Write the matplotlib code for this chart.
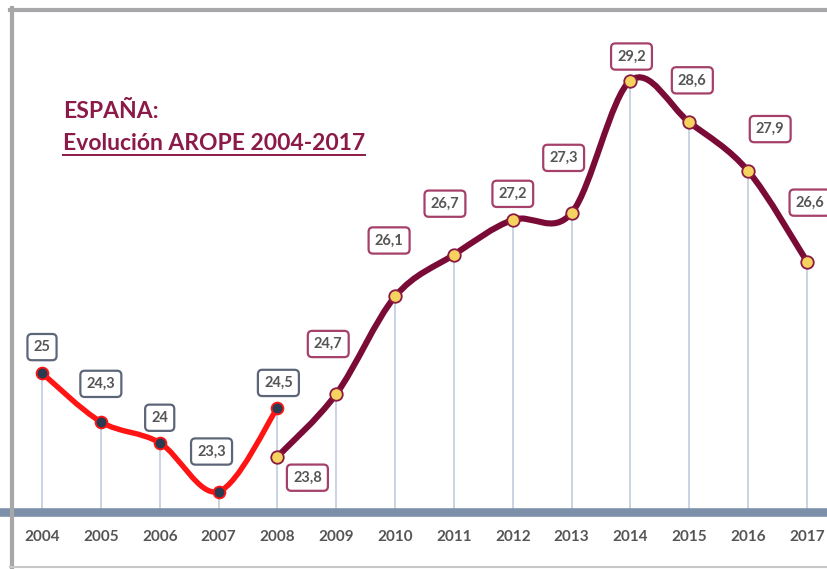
import numpy as np
import matplotlib
matplotlib.use("Agg")
import matplotlib.pyplot as plt
from matplotlib.path import Path
from matplotlib.patches import PathPatch
from matplotlib.lines import Line2D

# datos
years_a = [2004, 2005, 2006, 2007, 2008]
arope_a = [25.0, 24.3, 24.0, 23.3, 24.5]
years_b = [2008, 2009, 2010, 2011, 2012, 2013, 2014, 2015, 2016, 2017]
arope_b = [23.8, 24.7, 26.1, 26.7, 27.2, 27.3, 29.2, 28.6, 27.9, 26.6]
all_years = list(range(2004, 2018))

# desplazamiento de las etiquetas (pixeles)
off_a = [(0, 26), (0, 38), (0, 25), (-7, 40), (1, 25)]
off_b = [(30, -21), (-8, 50), (-6, 56), (-9, 51), (0, 26), (-8, 55),
         (1, 24), (3, 42), (22, 42), (3, 59)]

plt.rcParams['font.family'] = ['Lato', 'DejaVu Sans']


# curva suave (catmull-rom -> bezier)
def curva(xs, ys):
    p = np.column_stack([xs, ys]).astype(float)
    ext = np.vstack([p[0], p, p[-1]])
    verts = [p[0]]
    codes = [Path.MOVETO]
    for i in range(len(p) - 1):
        p0, p1, p2, p3 = ext[i], ext[i + 1], ext[i + 2], ext[i + 3]
        c1 = p1 + (p2 - p0) / 6.0
        c2 = p2 - (p3 - p1) / 6.0
        verts += [c1, c2, p2]
        codes += [Path.CURVE4] * 3
    return Path(verts, codes)


fig = plt.figure(figsize=(8.28, 5.69), dpi=100)
H = 569.0
ax = fig.add_axes([0, (H - 512) / H, 1, 512 / H])
px = 58.85
ax.set_xlim(2004 - 42 / px, 2004 + (828 - 42) / px)
py = 69.66
ax.set_ylim(23.006, 23.006 + 512 / py)

for s in ['top', 'right', 'left']:
    ax.spines[s].set_visible(False)
ax.spines['bottom'].set_color('#7d90aa')
ax.spines['bottom'].set_linewidth(6.2)
ax.spines['bottom'].set_zorder(5)
ax.set_yticks([])
ax.set_xticks(all_years)
ax.set_xticklabels([str(y) for y in all_years], fontsize=11, fontweight='bold', color='#555555')
ax.tick_params(axis='x', length=0, pad=13)

# lineas verticales
tops = {}
for x, y in zip(years_b, arope_b):
    tops[x] = y
for x, y in zip(years_a, arope_a):
    tops[x] = max(y, tops.get(x, y))
for x in all_years:
    ax.vlines(x, 23.0, tops[x], color='#c9d3e2', lw=1.4, zorder=1)

ax.add_patch(PathPatch(curva(years_a, arope_a), fill=False, ec='#ff1414', lw=3.9,
                       capstyle='round', zorder=3))
ax.add_patch(PathPatch(curva(years_b, arope_b), fill=False, ec='#7a0a36', lw=4.4,
                       capstyle='round', zorder=3))
ax.plot(years_a, arope_a, 'o', ms=8.5, mfc='#2a3a50', mec='#ff1414', mew=1.3, zorder=4)
ax.plot(years_b, arope_b, 'o', ms=9, mfc='#f6d35e', mec='#8a1a44', mew=1.3, zorder=4)


def etiqueta(x, y, off, ec):
    txt = ('%.1f' % y).replace('.', ',').replace(',0', '')
    ax.annotate(txt, (x, y), xytext=(off[0] * 0.72, off[1] * 0.72), textcoords='offset points',
                ha='center', va='center', fontsize=10.5, fontweight='bold', color='#555555',
                bbox=dict(boxstyle='round,pad=0.42,rounding_size=0.3', fc='white', ec=ec, lw=1.6),
                zorder=6, annotation_clip=False)


for x, y, o in zip(years_a, arope_a, off_a):
    etiqueta(x, y, o, '#5d6678')
for x, y, o in zip(years_b, arope_b, off_b):
    etiqueta(x, y, o, '#a5406a')

# titulo
fig.text(63 / 828, 1 - 111 / H, 'ESPAÑA:', fontsize=16.5, fontweight='bold', color='#8b1a48',
         va='center', ha='left')
t2 = fig.text(63 / 828, 1 - 143 / H, 'Evolución AROPE 2004-2017', fontsize=16.5, fontweight='bold',
              color='#8b1a48', va='center', ha='left')
fig.canvas.draw()
bb = t2.get_window_extent()
fig.add_artist(Line2D([bb.x0 / 828, bb.x1 / 828], [1 - 155 / H, 1 - 155 / H],
                      color='#8b1a48', lw=1.4))

# marco
fig.add_artist(Line2D([12 / 828, 12 / 828], [0, 1 - 8 / H], color='#a7a7aa', lw=3.0))
fig.add_artist(Line2D([10 / 828, 1], [1 - 10 / H, 1 - 10 / H], color='#a7a7aa', lw=3.0))
fig.add_artist(Line2D([10 / 828, 1], [1 - 567 / H, 1 - 567 / H], color='#c8c8ca', lw=1.5))

fig.savefig('out.png', dpi=100)
